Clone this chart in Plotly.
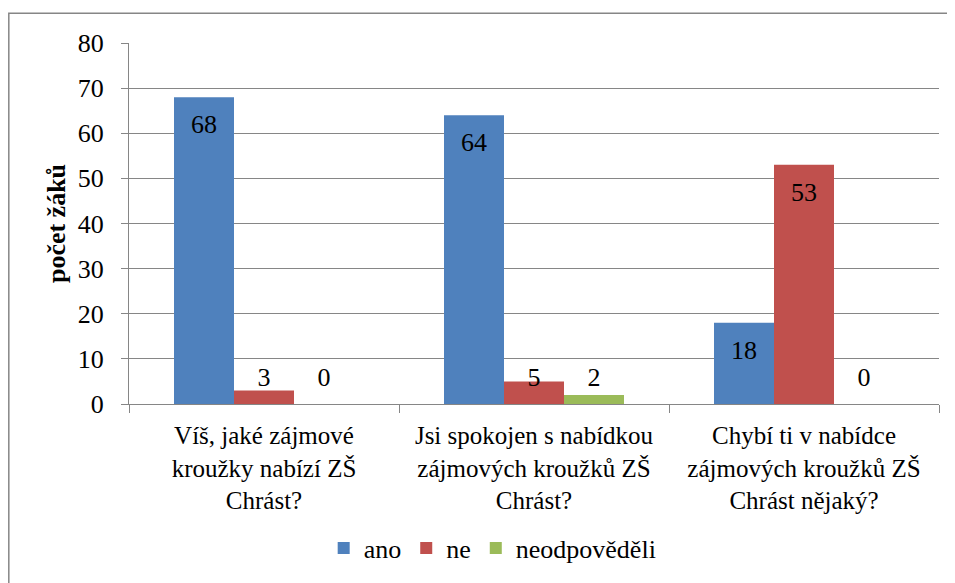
import plotly.graph_objects as go

categories = [
    "Víš, jaké zájmové<br>kroužky nabízí ZŠ<br>Chrást?",
    "Jsi spokojen s nabídkou<br>zájmových kroužků ZŠ<br>Chrást?",
    "Chybí ti v nabídce<br>zájmových kroužků ZŠ<br>Chrást nějaký?",
]
series_names = ["ano", "ne", "neodpověděli"]
ano = [68, 64, 18]
ne = [3, 5, 53]
neodpovedeli = [0, 2, 0]
series_values = [ano, ne, neodpovedeli]
colors = ["#4F81BD", "#C0504D", "#9BBB59"]
y_ticks = [0, 10, 20, 30, 40, 50, 60, 70, 80]

FONT = "Liberation Serif"
GRID = "#868686"

fig = go.Figure()
for name, vals, col in zip(series_names, series_values, colors):
    fig.add_trace(go.Bar(
        x=categories, y=vals, name=name, marker_color=col,
        marker_line_width=0, offsetgroup=name, alignmentgroup="g",
    ))

# data labels: "inside end" like Excel, kept above the axis for small bars
for name, vals in zip(series_names, series_values):
    label_y = [max(v - 6.6, 5.5) for v in vals]
    fig.add_trace(go.Scatter(
        x=categories, y=label_y, mode="text", text=[str(v) for v in vals],
        textposition="middle center", textfont=dict(family=FONT, size=26, color="black"),
        offsetgroup=name, alignmentgroup="g", showlegend=False, hoverinfo="skip",
    ))

fig.update_layout(
    width=947, height=575,
    margin=dict(l=121, r=16, t=35, b=179, autoexpand=False),
    paper_bgcolor="white", plot_bgcolor="white",
    barmode="group", bargap=1/3, bargroupgap=0,
    scattermode="group", scattergap=1/3,
    font=dict(family=FONT, size=26, color="black"),
    showlegend=True,
    legend=dict(
        orientation="h", x=0.449, xanchor="center", y=-0.399, yanchor="middle",
        font=dict(family=FONT, size=26, color="black"),
        itemwidth=30, bgcolor="rgba(0,0,0,0)",
    ),
    xaxis=dict(
        type="category", showline=True, linecolor=GRID, linewidth=1.3,
        ticks="outside", tickson="boundaries", ticklen=8, tickcolor=GRID, tickwidth=1.3,
        showgrid=False, tickfont=dict(family=FONT, size=25), ticklabelstandoff=9,
        automargin=False,
    ),
    yaxis=dict(
        range=[0, 80], tickvals=y_ticks, showline=True, linecolor=GRID, linewidth=1.3,
        ticks="outside", ticklen=7, tickcolor=GRID, tickwidth=1.3,
        showgrid=True, gridcolor=GRID, gridwidth=1.3, zeroline=False,
        tickfont=dict(family=FONT, size=26), ticklabelstandoff=12,
        title=dict(text="<b>počet žáků</b>", font=dict(family=FONT, size=26), standoff=4),
        automargin=False,
    ),
    shapes=[dict(
        type="rect", xref="paper", yref="paper",
        x0=-121 / 810 + 0.001, x1=1.2, y0=-0.7, y1=(396 - 5) / 361.3,
        line=dict(color=GRID, width=1.5), fillcolor="rgba(0,0,0,0)", layer="below",
    )],
)

fig.write_html("out.html")
